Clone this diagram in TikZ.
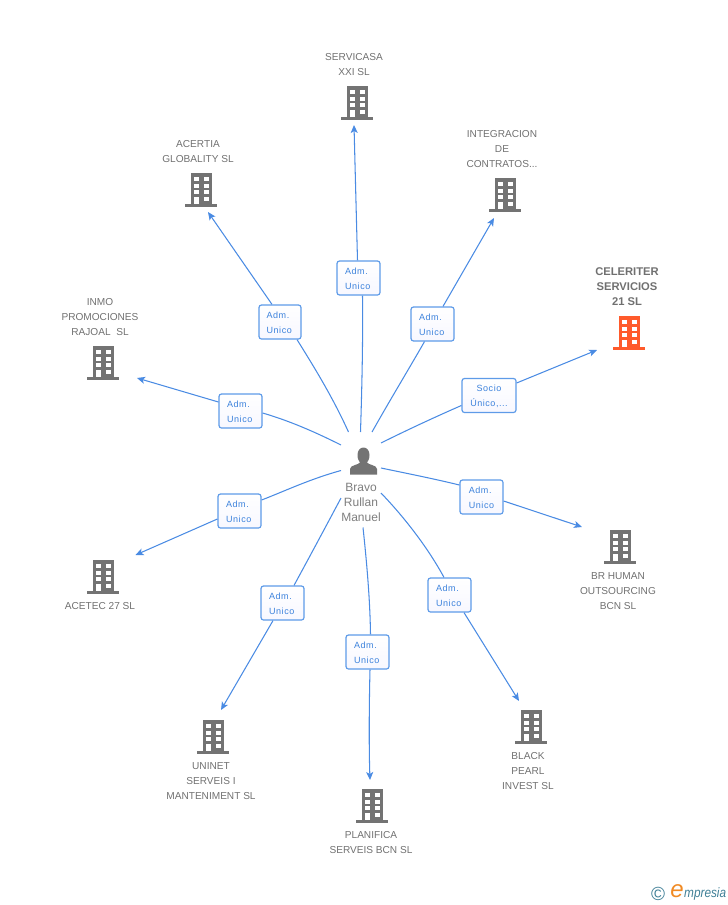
\documentclass[tikz,border=0pt]{standalone}
\usepackage{fontspec}
\setmainfont{Liberation Sans}
\usetikzlibrary{arrows.meta}
\definecolor{bgray}{HTML}{737373}
\definecolor{torange}{HTML}{FF5A2B}
\definecolor{tgray}{HTML}{707070}
\definecolor{eblue}{HTML}{4A8BE3}
\definecolor{ltext}{HTML}{3C82DC}
\definecolor{lborder}{HTML}{5E9BE8}
\definecolor{lteal}{HTML}{3F7F96}
\definecolor{lorange}{HTML}{F08A24}
\newcommand\admu{\rule{0pt}{8.5pt}Adm.\\Unico\hspace*{1.5pt}}
\tikzset{x=1pt,y=-1pt,
 bldg/.style={minimum width=32pt,minimum height=34pt,inner sep=0pt,outer sep=0pt,
  path picture={
   \begin{scope}[shift={(path picture bounding box.center)}]
    \fill[#1] (-10.5,-17) rectangle (10.5,14);
    \fill[#1] (-16,14) rectangle (16,17);
    \foreach \yy in {-13,-6.4,0}{
     \fill[white] (-7.5,\yy) rectangle (-2.5,{\yy+4.4});
     \fill[white] (2.5,\yy) rectangle (7.5,{\yy+4.4});}
    \fill[white] (-7.5,7) rectangle (-2.5,14);
    \fill[white] (2.5,7) rectangle (7.5,11.4);
   \end{scope}}},
 lab/.style={font=\fontsize{10.1}{15}\selectfont,text=tgray,align=center,inner sep=0pt},
 mainlab/.style={lab,font=\fontsize{11.2}{15}\selectfont\bfseries,text=tgray},
 rel/.style={draw=lborder,line width=1.2pt,rounded corners=2.5pt,top color=white,bottom color=blue!3,
  text=ltext,font=\fontsize{9}{15}\selectfont\addfontfeature{LetterSpace=6},align=left,inner sep=0pt,
  minimum height=34pt},
 edge/.style={draw=eblue,line width=1.05pt},
 arr/.style={edge,-{Stealth[length=8pt,width=7pt,inset=2pt]}}
}
\begin{document}
\begin{tikzpicture}
\useasboundingbox (0,0) rectangle (728,905);
% buildings
\node[bldg=bgray] (b1) at (357,103) {};
\node[bldg=bgray] (b2) at (201,190) {};
\node[bldg=bgray] (b3) at (505,195) {};
\node[bldg=torange] (b4) at (629,333) {};
\node[bldg=bgray] (b5) at (103,363) {};
\node[bldg=bgray] (b6) at (620,547) {};
\node[bldg=bgray] (b7) at (103,577) {};
\node[bldg=bgray] (b8) at (531,727) {};
\node[bldg=bgray] (b9) at (213,737) {};
\node[bldg=bgray] (b10) at (372,806) {};
% labels
\node[lab] (t1) at (354,65) {SERVICASA\\XXI SL};
\node[lab] (t2) at (198,152) {ACERTIA\\GLOBALITY SL};
\node[lab] (t3) at (502,149) {INTEGRACION\\DE\\CONTRATOS...};
\node[mainlab] (t4) at (627,287) {CELERITER\\SERVICIOS\\21 SL};
\node[lab] (t5) at (100,317) {INMO\\PROMOCIONES\\RAJOAL\ \ SL};
\node[lab] (t6) at (618,591) {BR HUMAN\\OUTSOURCING\\BCN SL};
\node[lab] (t7) at (100,606) {ACETEC 27 SL};
\node[lab] (t8) at (528,771) {BLACK\\PEARL\\INVEST SL};
\node[lab] (t9) at (211,781) {UNINET\\SERVEIS I\\MANTENIMENT SL};
\node[lab] (t10) at (371,843) {PLANIFICA\\SERVEIS BCN SL};
% person
\node[minimum width=28pt,minimum height=28pt,inner sep=0pt,
 path picture={\begin{scope}[shift={(path picture bounding box.center)}]
  \fill[bgray] (-13.5,13.5) -- (-13.5,8) .. controls (-13.5,4) and (-5,4) .. (-3.5,1.5)
   .. controls (-6,-2) and (-6,-4) .. (-6,-6) .. controls (-6,-11) and (-3,-13.5) .. (0,-13.5)
   .. controls (3,-13.5) and (6,-11) .. (6,-6) .. controls (6,-4) and (6,-2) .. (3.5,1.5)
   .. controls (5,4) and (13.5,4) .. (13.5,8) -- (13.5,13.5) -- cycle;
 \end{scope}}] (p) at (363.5,461) {};
\node[lab,font=\fontsize{12}{15}\selectfont,text=tgray!90] (pl) at (361,502) {Bravo\\Rullan\\Manuel};
% relation boxes
\node[rel,minimum width=43pt] (r1) at (358.5,278) {\admu};
\node[rel,minimum width=42pt] (r2) at (280,322) {\admu};
\node[rel,minimum width=43pt] (r3) at (432.5,324) {\admu};
\node[rel,minimum width=54pt,align=center] (r4) at (489,395.5) {\rule{0pt}{8.5pt}Socio\\Único,...};
\node[rel,minimum width=43pt] (r5) at (481.5,497) {\rule{0pt}{8.5pt}Adm.\\Unico};
\node[rel,minimum width=43pt] (r6) at (449.5,595) {\admu};
\node[rel,minimum width=43pt] (r7) at (367.5,652) {\admu};
\node[rel,minimum width=43pt] (r8) at (282.5,603) {\admu};
\node[rel,minimum width=43pt] (r9) at (239.5,511) {\admu};
\node[rel,minimum width=43pt] (r10) at (240.5,411) {\admu};
% free ends
\coordinate (s1) at (360.5,432); \coordinate (e1) at (354,125);
\coordinate (s2) at (348.5,432); \coordinate (e2) at (208,212);
\coordinate (s3) at (372,432); \coordinate (e3) at (494,218);
\coordinate (s4) at (381,443); \coordinate (e4) at (597,350);
\coordinate (s5) at (381,468); \coordinate (e5) at (582,527);
\coordinate (s6) at (381,493); \coordinate (e6) at (519,701);
\coordinate (s7) at (363,527.5); \coordinate (e7) at (370,780);
\coordinate (s8) at (341,498); \coordinate (e8) at (221,710);
\coordinate (s9) at (341,470.5); \coordinate (e9) at (135.5,555);
\coordinate (s10) at (341,445); \coordinate (e10) at (137,378);
% connectors
\path[edge] (s1) .. controls (362,385) and (363,340) .. ([xshift=4pt]r1.south);
\path[arr] ([xshift=-1pt]r1.north) -- (e1);
\path[edge] (s2) .. controls (333,398) and (316,370) .. ([xshift=17pt]r2.south);
\path[arr] ([xshift=-8pt]r2.north) -- (e2);
\path[edge] (s3) .. controls (390,400) and (410,367) .. ([xshift=-8pt]r3.south);
\path[arr] ([xshift=10.5pt]r3.north) -- (e3);
\path[edge] (s4) .. controls (405,431) and (435,417) .. ([yshift=-10pt]r4.west);
\path[arr] ([yshift=12.5pt]r4.east) -- (e4);
\path[edge] (s5) .. controls (405,473) and (435,479) .. ([yshift=12pt]r5.west);
\path[arr] ([yshift=-4pt]r5.east) -- (e5);
\path[edge] (s6) .. controls (405,518) and (428,548) .. ([xshift=-5.5pt]r6.north);
\path[arr] ([xshift=14.5pt]r6.south) -- (e6);
\path[edge] (s7) .. controls (367,565) and (370,600) .. ([xshift=3pt]r7.north);
\path[arr] ([xshift=2.5pt]r7.south) .. controls (369,710) and (369,750) .. (e7);
\path[edge] (s8) .. controls (325,528) and (310,556) .. ([xshift=11.5pt]r8.north);
\path[arr] ([xshift=-9.5pt]r8.south) -- (e8);
\path[edge] (s9) .. controls (310,479) and (285,491) .. ([yshift=11pt]r9.east);
\path[arr] ([yshift=-8pt]r9.west) -- (e9);
\path[edge] (s10) .. controls (315,432) and (290,421) .. ([yshift=-2pt]r10.east);
\path[arr] ([yshift=9pt]r10.west) -- (e10);
% logo
\node[inner sep=0pt,text=lteal,font=\fontsize{19}{19}\selectfont] (c) at (658,894) {©};
\node[inner sep=0pt,text=lorange,font=\itshape\fontsize{24}{24}\selectfont] (le) at (677,891.5) {e};
\node[inner sep=0pt,text=lteal,anchor=west,yscale=1.15,font=\itshape\fontsize{11.8}{14}\selectfont] (lm) at (684,894) {mpresia};
\end{tikzpicture}
\end{document}
